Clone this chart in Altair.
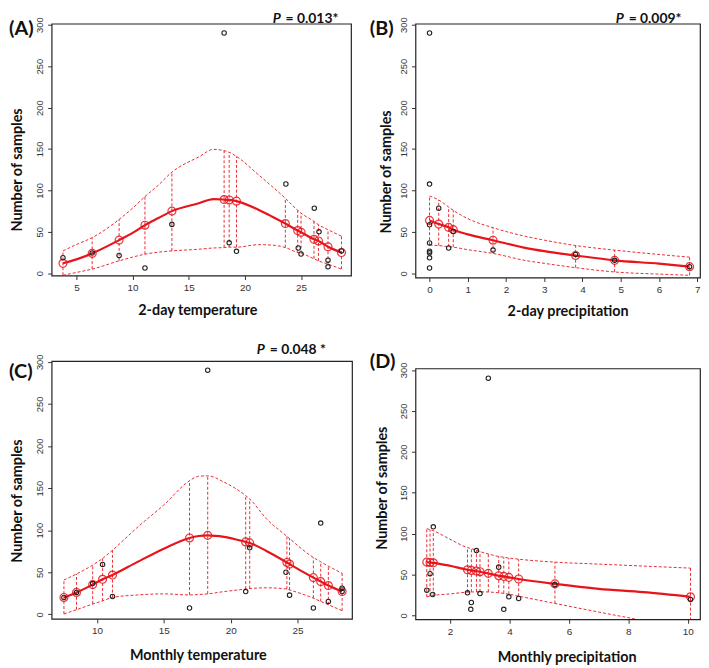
import altair as alt
import pandas as pd

RED = "#e8141b"
YTICKS = [0, 50, 100, 150, 200, 250, 300]

# ---------------- Panel A : 2-day temperature ----------------
A_pts_x = [3.8, 6.4, 8.8, 11.1, 13.5, 18.15, 18.6, 19.25, 23.65, 24.75, 25.0, 26.18, 26.6, 27.4, 27.4, 28.6]
A_pts_y = [18.7, 24.5, 21.5, 6.4, 59, 290, 36.7, 26.5, 107.7, 30.5, 23.2, 78.6, 50, 15.8, 7.8, 27]
A_st_x = [3.8, 6.4, 8.8, 11.1, 13.5, 18.15, 18.6, 19.25, 23.6, 24.7, 25.0, 26.15, 26.55, 27.4, 28.6]
A_st_fit = [12, 24, 40, 58, 75, 89, 88.5, 87, 60, 51.5, 49.5, 41, 39, 32, 25]
A_st_lo = [-2.4, 5, 15, 23, 27, 31, 31.5, 31.5, 31, 25, 24, 17.5, 15, 11, 5]
A_st_hi = [27, 43, 65, 92.5, 122, 148, 146, 141, 90.5, 76, 72.6, 62.6, 58.6, 52.6, 44.7]
A_cv_x = [5, 10, 12.3, 15.9, 17.2, 21.2, 22.4]
A_cv_fit = [16.8, 48.7, 66.6, 84.5, 89.5, 76.6, 68.6]
A_cv_lo = [1, 19.5, 25.5, 29, 30.5, 34.5, 34]
A_cv_hi = [34.7, 78.6, 106.5, 140.5, 149.5, 119, 105]

# ---------------- Panel B : 2-day precipitation ----------------
B_pts_x = [0, 0, 0.24, 0, 0, 0, 0, 0, 0, 0.5, 0.62, 1.66, 3.82, 4.84, 6.8]
B_pts_y = [290, 107.7, 78.6, 58.6, 36.7, 26.7, 24.7, 18.7, 6.4, 30.5, 50.5, 28, 22.7, 15.6, 8]
B_st_x = [0, 0.24, 0.5, 0.62, 1.66, 3.82, 4.84, 6.8]
B_st_fit = [63.8, 59.4, 55.4, 52.7, 39.9, 21.5, 15.6, 8]
B_st_lo = [34, 33.5, 32, 31.5, 24, 6.8, 1.6, -2.4]
B_st_hi = [93.3, 88.5, 80, 76, 55, 33.5, 28, 19.5]
B_cv_x = [1, 2.5, 3, 6]
B_cv_fit = [47, 30.7, 26.7, 11.6]
B_cv_lo = [28.5, 15.5, 12, -1]
B_cv_hi = [66, 44.7, 40, 22.7]

# ---------------- Panel C : Monthly temperature ----------------
C_pts_x = [7.53, 8.47, 9.68, 10.42, 11.16, 16.92, 18.28, 21.12, 21.42, 24.13, 24.4, 26.18, 26.73, 27.3, 28.33, 28.33]
C_pts_y = [20, 26, 36.5, 59.3, 21.2, 7.5, 290, 27, 79, 50, 22.8, 7.5, 108.4, 15.3, 31, 27]
C_st_x = [7.53, 8.47, 9.68, 10.42, 11.16, 16.92, 18.28, 21.12, 21.42, 24.2, 24.4, 26.18, 26.73, 27.3, 28.33]
C_st_fit = [20, 26, 35.3, 41.6, 46.7, 90.7, 93.8, 86, 84.8, 61.6, 59.7, 43.6, 38.9, 34.2, 27.1]
C_st_lo = [0.4, 5.5, 12.2, 16, 20, 23, 24.3, 30, 30.6, 30, 29, 19.2, 15.3, 11.4, 4.3]
C_st_hi = [40.8, 47.9, 58.5, 66.4, 76.2, 158.6, 164.5, 141, 137, 92.7, 90, 67.5, 62.4, 57.3, 48.7]
C_cv_x = [13, 15, 17.6, 19.5, 22.7]
C_cv_fit = [62, 78, 93, 92, 75]
C_cv_lo = [23, 24.3, 23.5, 27, 31.5]
C_cv_hi = [103, 130, 164, 157, 113]

# ---------------- Panel D : Monthly precipitation ----------------
D_pts_x = [1.22, 1.33, 1.42, 1.44, 3.29, 2.59, 2.72, 2.70, 2.89, 3.01, 3.64, 3.81, 3.98, 4.31, 5.53, 10.09]
D_pts_y = [30.7, 50.9, 25.4, 108.2, 290, 27.5, 15.7, 7.3, 79.1, 26.6, 58.9, 7.3, 22.6, 20.6, 37.5, 19.4]
D_st_x = [1.22, 1.33, 1.44, 2.59, 2.72, 2.89, 3.01, 3.29, 3.64, 3.81, 3.98, 4.31, 5.53, 10.09]
D_st_fit = [65, 64.6, 64.2, 55.7, 54.9, 54.1, 53.3, 51.3, 48.4, 47.6, 46.4, 44.4, 38.4, 22.6]
D_st_lo = [22.6, 23.4, 24.2, 28.3, 28.5, 28.7, 28.7, 28.5, 27.5, 26.8, 25.8, 23.4, 14.5, -18.5]
D_st_hi = [106, 104.7, 103.4, 82.8, 81.5, 79.5, 77.9, 75, 71.9, 71, 70, 68.6, 65, 57.7]
D_cv_x = [2, 7, 8.5]
D_cv_fit = [60.6, 32.3, 28.3]
D_cv_lo = [26.2, 4, -6.5]
D_cv_hi = [93, 62.6, 60.2]


def panel(letter, pval, pts_x, pts_y, st_x, st_fit, st_lo, st_hi,
          cv_x, cv_fit, cv_lo, cv_hi, xdom, ydom, w, h, xticks, xtitle,
          xt_pos, yt_pos, let_pos, p_pos):
    pts = pd.DataFrame({"x": pts_x, "y": pts_y})
    st = pd.DataFrame({"x": st_x, "fit": st_fit, "lo": st_lo, "hi": st_hi})
    cv = pd.concat([st, pd.DataFrame({"x": cv_x, "fit": cv_fit, "lo": cv_lo, "hi": cv_hi})])
    cv = cv.sort_values("x").drop_duplicates("x").reset_index(drop=True)

    xs = alt.Scale(domain=xdom, nice=False, zero=False)
    ys = alt.Scale(domain=ydom, nice=False, zero=False)
    xax = alt.Axis(values=xticks, title=xtitle, grid=False, domain=False,
                   labelFont="Liberation Sans", labelFontSize=10, labelColor="#333",
                   labelFlush=False, labelOverlap=False, labelPadding=3,
                   tickSize=4, tickColor="#333", tickWidth=1,
                   titleFont="Lato", titleFontSize=14.5, titleFontWeight="bold",
                   titleColor="#111", titleX=xt_pos[0], titleY=xt_pos[1],
                   titleAlign="center", titleBaseline="middle")
    yax = alt.Axis(values=YTICKS, title="Number of samples", grid=False, domain=False,
                   labelFont="Liberation Sans", labelFontSize=9.5, labelColor="#333",
                   labelAngle=270, labelAlign="center", labelBaseline="bottom",
                   labelFlush=False, labelOverlap=False, labelPadding=3,
                   tickSize=4, tickColor="#333", tickWidth=1,
                   titleFont="Lato", titleFontSize=14.5, titleFontWeight="bold",
                   titleColor="#111", titleAngle=270, titleX=yt_pos[0], titleY=yt_pos[1],
                   titleAlign="center", titleBaseline="middle")
    X = alt.X("x:Q", scale=xs, axis=xax)

    def Y(f):
        return alt.Y(f + ":Q", scale=ys, axis=yax)

    dash = dict(color=RED, strokeWidth=1, strokeDash=[3, 2], clip=True, opacity=0.9)
    hi = alt.Chart(cv).mark_line(interpolate="monotone", **dash).encode(x=X, y=Y("hi"))
    lo = alt.Chart(cv).mark_line(interpolate="monotone", **dash).encode(x=X, y=Y("lo"))
    seg = alt.Chart(st).mark_rule(**dash).encode(x=X, y=Y("lo"), y2="hi:Q")
    fit = alt.Chart(cv).mark_line(interpolate="monotone", color=RED, strokeWidth=2.2,
                                  clip=True).encode(x=X, y=Y("fit"))
    circ = alt.Chart(st).mark_point(shape="circle", filled=False, size=64, color=RED,
                                    strokeWidth=1.2, opacity=0.85).encode(x=X, y=Y("fit"))
    blk = alt.Chart(pts).mark_point(shape="circle", filled=False, size=20, color="#222",
                                    strokeWidth=1.1, opacity=1).encode(x=X, y=Y("y"))

    lab = alt.Chart(pd.DataFrame({"t": [letter]})).mark_text(
        align="left", baseline="alphabetic", font="Lato", fontSize=20, fontWeight="bold",
        color="#111").encode(x=alt.value(let_pos[0]), y=alt.value(let_pos[1]), text="t:N")
    layers = [hi, lo, seg, fit, circ, blk, lab]
    if pval:
        p1 = alt.Chart(pd.DataFrame({"t": ["P"]})).mark_text(
            align="left", baseline="alphabetic", font="Lato", fontSize=14, fontWeight="bold",
            fontStyle="italic", color="#111").encode(
            x=alt.value(p_pos[0]), y=alt.value(p_pos[1]), text="t:N")
        p2 = alt.Chart(pd.DataFrame({"t": [pval]})).mark_text(
            align="left", baseline="alphabetic", font="Lato", fontSize=14, fontWeight="bold",
            color="#111").encode(
            x=alt.value(p_pos[0] + 13), y=alt.value(p_pos[1]), text="t:N")
        layers += [p1, p2]
    return alt.layer(*layers).properties(width=w, height=h)


pA = panel("(A)", "= 0.013*", A_pts_x, A_pts_y, A_st_x, A_st_fit, A_st_lo, A_st_hi,
           A_cv_x, A_cv_fit, A_cv_lo, A_cv_hi, [2.79, 29.45], [-2.75, 301.2], 302, 254,
           [5, 10, 15, 20, 25], "2-day temperature", (147, 35), (-34, 147), (-43, 11), (223, -1))
pB = panel("(B)", "= 0.009*", B_pts_x, B_pts_y, B_st_x, B_st_fit, B_st_lo, B_st_hi,
           B_cv_x, B_cv_fit, B_cv_lo, B_cv_hi, [-0.368, 7.073], [-5.1, 301.2], 287, 256,
           [0, 1, 2, 3, 4, 5, 6, 7], "2-day precipitation", (153.5, 34.5), (-29.5, 149),
           (-46, 11), (202, -1))
pC = panel("(C)", "= 0.048 *", C_pts_x, C_pts_y, C_st_x, C_st_fit, C_st_lo, C_st_hi,
           C_cv_x, C_cv_fit, C_cv_lo, C_cv_hi, [6.61, 29.07], [-5.4, 300.8], 303, 260,
           [10, 15, 20, 25], "Monthly temperature", (147.5, 36.5), (-34.5, 140.7),
           (-43, 16.7), (207, -7))
pD = panel("(D)", None, D_pts_x, D_pts_y, D_st_x, D_st_fit, D_st_lo, D_st_hi,
           D_cv_x, D_cv_fit, D_cv_lo, D_cv_hi, [0.84, 10.41], [-4.85, 301.9], 287, 253,
           [2, 4, 6, 8, 10], "Monthly precipitation", (152.5, 38.5), (-33.5, 120.3),
           (-46, 0), (0, 0))

col1 = alt.vconcat(pA, pC, spacing=86.3, bounds="flush")
col2 = alt.vconcat(pB, pD, spacing=91.7, bounds="flush")
chart = alt.hconcat(col1, col2, spacing=16, bounds="full").properties(
    padding=0, background="white"
).configure_view(stroke="#222", strokeWidth=1.2)

chart.save("out.html", embed_options={"renderer": "svg", "actions": False})
